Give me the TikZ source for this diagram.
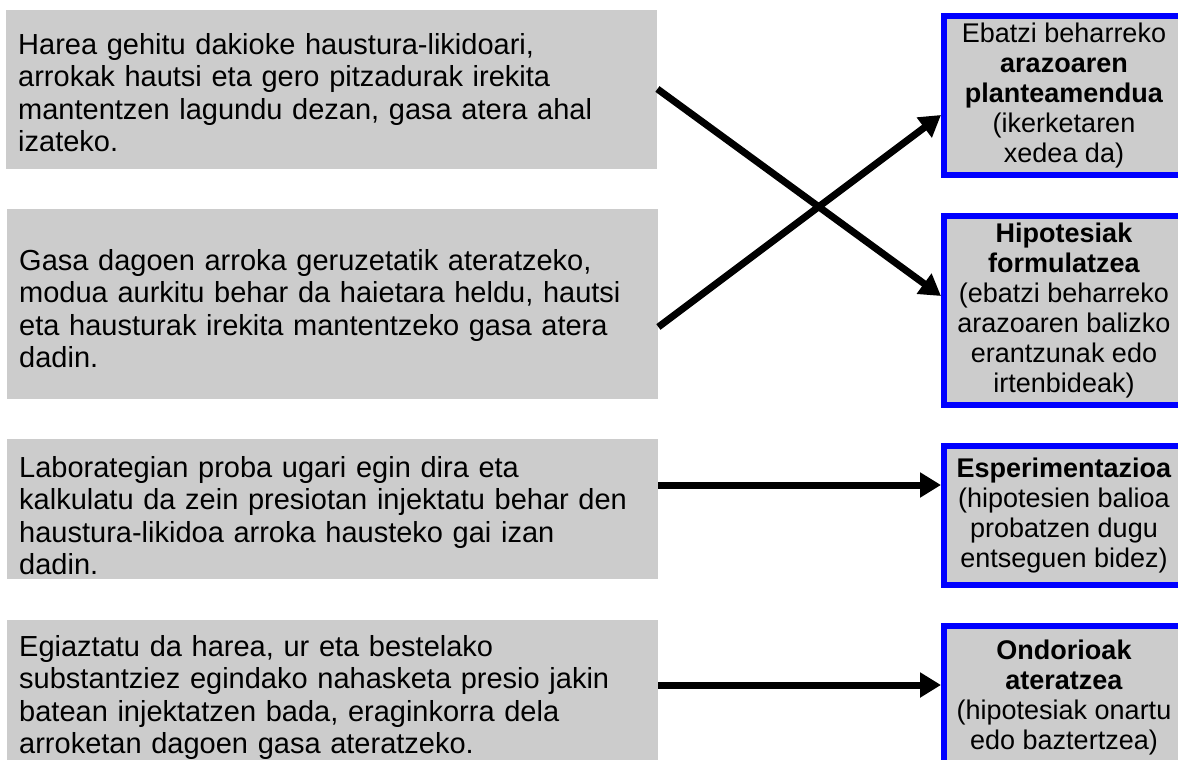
\documentclass[tikz,border=0pt]{standalone}
\usepackage{fontspec}
\setmainfont{Liberation Sans}
\usetikzlibrary{arrows.meta,positioning}
\definecolor{boxgray}{RGB}{204,204,204}
\definecolor{edgeblue}{RGB}{0,0,255}
\tikzset{
    leftbox/.style={fill=boxgray, anchor=north west, inner xsep=12pt, inner ysep=0pt,
        text width=627pt, align=left, font=\fontsize{29}{32.5}\selectfont},
    rightbox/.style={draw=edgeblue, line width=6pt, fill=boxgray, anchor=north west,
        minimum width=240pt, inner sep=0pt, align=center, font=\fontsize{27}{30}\selectfont},
    link/.style={line width=7pt, -{Triangle[length=21pt,width=24pt]}}
}
\begin{document}
\begin{tikzpicture}[x=1pt,y=-1pt]
    \useasboundingbox (0,0) rectangle (1178,760);

    \node[leftbox, text height=44pt, text depth=115pt] (l1) at (6,10)
        {Harea gehitu dakioke haustura-likidoari,\\arrokak hautsi eta gero pitzadurak irekita\\mantentzen lagundu dezan, gasa atera ahal\\izateko.};
    \node[leftbox, text height=61pt, text depth=129pt] (l2) at (7,209)
        {Gasa dagoen arroka geruzetatik ateratzeko,\\modua aurkitu behar da haietara heldu, hautsi\\eta hausturak irekita mantentzeko gasa atera\\dadin.};
    \node[leftbox, text height=38pt, text depth=102pt] (l3) at (7,439)
        {Laborategian proba ugari egin dira eta\\kalkulatu da zein presiotan injektatu behar den\\haustura-likidoa arroka hausteko gai izan\\dadin.};
    \node[leftbox, text height=36pt, text depth=134pt] (l4) at (7,620)
        {Egiaztatu da harea, ur eta bestelako\\substantziez egindako nahasketa presio jakin\\batean injektatzen bada, eraginkorra dela\\arroketan dagoen gasa ateratzeko.};

    \node[rightbox, minimum height=159pt] (r1) at (941,13)
        {Ebatzi beharreko\\\textbf{arazoaren}\\\textbf{planteamendua}\\(ikerketaren\\xedea da)};
    \node[rightbox, minimum height=189pt] (r2) at (941,213)
        {\textbf{Hipotesiak}\\\textbf{formulatzea}\\(ebatzi beharreko\\arazoaren balizko\\erantzunak edo\\irtenbideak)};
    \node[rightbox, minimum height=139pt] (r3) at (941,443)
        {\textbf{Esperimentazioa}\\(hipotesien balioa\\probatzen dugu\\entseguen bidez)};
    \node[rightbox, minimum height=144pt] (r4) at (941,623)
        {\textbf{Ondorioak}\\\textbf{ateratzea}\\(hipotesiak onartu\\edo baztertzea)};

    \draw[link] (l1.east |- 0,89) -- (r2.west |- 0,296);
    \draw[link] (l2.east |- 0,327) -- (r1.west |- 0,115);
    \draw[link] (l3.east |- 0,485) -- (r3.west |- 0,485);
    \draw[link] (l4.east |- 0,685) -- (r4.west |- 0,685);
\end{tikzpicture}
\end{document}
